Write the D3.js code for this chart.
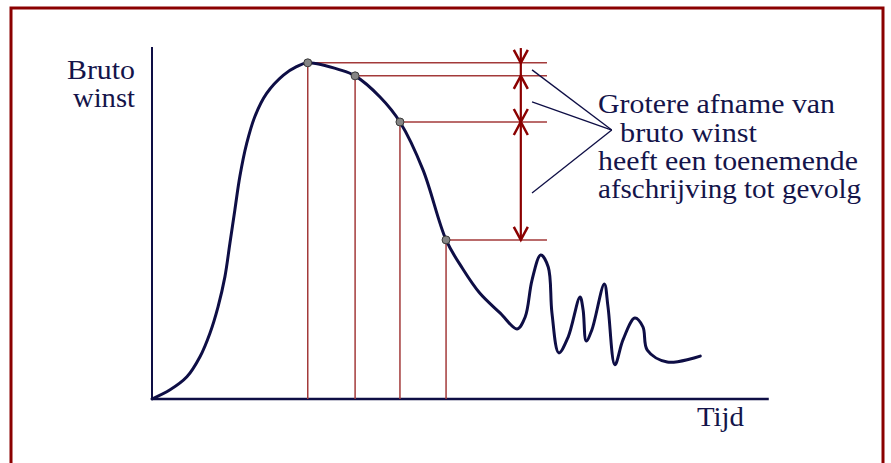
<!DOCTYPE html>
<html>
<head>
<meta charset="utf-8">
<script src="https://cdn.jsdelivr.net/npm/d3@7"></script>
<style>
  html, body { margin: 0; padding: 0; background: #fff; }
  svg { display: block; }
  .serif { font-family: "Liberation Serif", "DejaVu Serif", "Noto Serif", "FreeSerif", "Times New Roman", Times, serif; }
</style>
</head>
<body>
<svg id="chart" width="891" height="463"></svg>
<script>
const tijd = [0, 2.9, 5.6, 7.7, 9.3, 10.6, 11.7, 12.5, 13.3, 14.1, 15.2, 16.5, 18.4, 21.1, 23.2, 25.0, 30.2, 32.6, 36.6, 39.8, 43.5, 47.2, 49.8,
  52.6, 55.9, 58.6, 59.9, 61.0, 62.4, 63.6, 64.2, 65.3, 66.8, 68.7, 69.2, 69.7, 70.6, 72.6, 73.2, 74.3, 75.6, 77.5, 78.8, 79.5, 82.7, 88.0];
const brutoWinst = [0, 2.6, 6.3, 12.0, 18.7, 26.2, 34.7, 44.2, 53.7, 63.2, 72.6, 80.2, 86.8, 92.0, 94.4, 95.5, 93.5, 91.8, 85.8, 78.7, 65.1, 45.2, 37.2,
  30.1, 24.4, 19.9, 23.3, 33.8, 40.9, 37.5, 24.4, 13.1, 17.6, 29.0, 25.3, 16.5, 19.6, 32.7, 26.1, 9.7, 16.8, 23.0, 20.5, 13.9, 10.5, 12.2];

// gemarkeerde punten
const puntTijd = [25.0, 32.6, 39.8, 47.2];
const puntWinst = [95.5, 91.8, 78.7, 45.2];

// maatpijlen: niveau en richting
const pijlNiveau = [95.5, 91.8, 78.7, 78.7, 45.2];
const pijlRichting = ["down", "up", "down", "up", "down"];

const annotatie = ["Grotere afname van", "bruto winst", "heeft een toenemende", "afschrijving tot gevolg"];

const svg = d3.select("#chart");
const red = "#8b0000";
const navy = "#0e0e45";

// kader
svg.append("path")
  .attr("d", "M11,470 V8 H883 V470")
  .attr("fill", "none")
  .attr("stroke", red)
  .attr("stroke-width", 3);

const x = d3.scaleLinear().domain([0, 100]).range([152, 775]);
const y = d3.scaleLinear().domain([0, 100]).range([399, 47]);

// assen
svg.append("line")
  .attr("x1", x(0)).attr("x2", x(0))
  .attr("y1", y(0)).attr("y2", y(100))
  .attr("stroke", navy).attr("stroke-width", 2);
svg.append("line")
  .attr("x1", x(0)).attr("x2", x(99))
  .attr("y1", y(0)).attr("y2", y(0))
  .attr("stroke", navy).attr("stroke-width", 2.5);

// hulplijnen
const guideEnd = 63.4;
puntTijd.forEach((t, i) => {
  svg.append("line")
    .attr("x1", x(t)).attr("x2", x(t))
    .attr("y1", y(puntWinst[i])).attr("y2", y(0))
    .attr("stroke", "#a33a3a").attr("stroke-width", 1.5);
  svg.append("line")
    .attr("x1", x(t)).attr("x2", x(guideEnd))
    .attr("y1", y(puntWinst[i])).attr("y2", y(puntWinst[i]))
    .attr("stroke", "#a33a3a").attr("stroke-width", 1.5);
});

// maatpijl
const pijlX = 59.2;
svg.append("line")
  .attr("x1", x(pijlX)).attr("x2", x(pijlX))
  .attr("y1", y(99.7)).attr("y2", y(45.2))
  .attr("stroke", red).attr("stroke-width", 2.2);
pijlNiveau.forEach((v, i) => {
  const px = x(pijlX), py = y(v);
  const dy = pijlRichting[i] === "down" ? -13 : 13;
  svg.append("path")
    .attr("d", `M${px - 7},${py + dy} L${px},${py} L${px + 7},${py + dy}`)
    .attr("fill", "none")
    .attr("stroke", red).attr("stroke-width", 2.5);
});

// curve
const line = d3.line()
  .x((d, i) => x(tijd[i]))
  .y(d => y(d))
  .curve(d3.curveCatmullRom.alpha(0.5));
svg.append("path")
  .datum(brutoWinst)
  .attr("d", line)
  .attr("fill", "none")
  .attr("stroke", navy)
  .attr("stroke-width", 3)
  .attr("stroke-linecap", "round")
  .attr("stroke-linejoin", "round");

// punten
svg.selectAll("circle.punt")
  .data(puntTijd)
  .enter().append("circle")
  .attr("class", "punt")
  .attr("cx", d => x(d))
  .attr("cy", (d, i) => y(puntWinst[i]))
  .attr("r", 4)
  .attr("fill", "#858585")
  .attr("stroke", "#3a3a3a")
  .attr("stroke-width", 1);

// verwijslijnen naar tekst
const tip = [73.8, 76.4];
[93.5, 84.4, 58.5].forEach(v => {
  svg.append("line")
    .attr("x1", x(61.0)).attr("y1", y(v))
    .attr("x2", x(tip[0])).attr("y2", y(tip[1]))
    .attr("stroke", navy).attr("stroke-width", 1.3);
});

// teksten
const label = (tx, ty, s, size, len, anchor) => {
  const t = svg.append("text")
    .attr("class", "serif")
    .attr("x", tx).attr("y", ty)
    .attr("font-size", size)
    .attr("fill", "#14144a")
    .attr("text-anchor", anchor || "start")
    .text(s);
  if (len) t.attr("textLength", len).attr("lengthAdjust", "spacingAndGlyphs");
};
label(135, 79, "Bruto", 28, 68, "end");
label(135, 107, "winst", 28, 62, "end");
label(697, 426, "Tijd", 27, 47);

const annX = [598, 620, 598, 598];
const annY = [113, 142, 170, 198];
const annLen = [237, 137, 260, 263];
annotatie.forEach((s, i) => label(annX[i], annY[i], s, 27, annLen[i]));
</script>
</body>
</html>
